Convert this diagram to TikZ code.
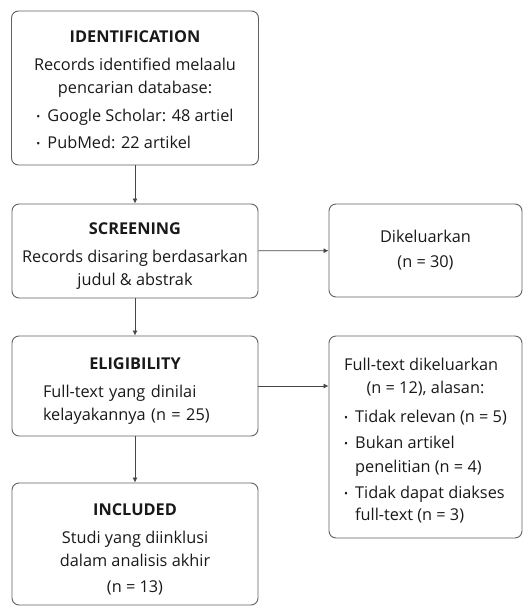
\documentclass[tikz,border=0pt]{standalone}
\usepackage{fontspec}
\setmainfont{Open Sans}
\usepackage{graphicx}
\usetikzlibrary{arrows.meta}

\newcommand{\bul}{\makebox[11pt][l]{\raisebox{0.15ex}{\scalebox{0.65}{\textbullet}}}}
\newcommand{\ttl}[1]{\rule{0pt}{22pt}\textbf{#1}}

\begin{document}
\begin{tikzpicture}[x=1pt, y=-1pt,
    box/.style={draw=black!62, line width=0.9pt, rounded corners=7pt, inner sep=0pt,
                font=\fontsize{16.3}{23}\selectfont, text=black!90},
    arr/.style={-{Latex[length=5pt,width=5pt]}, draw=black!72, line width=0.8pt}]
  \useasboundingbox (0,0) rectangle (526,606);

  \node[box, minimum width=247pt, minimum height=154pt, align=center] (ident) at (135,88)
    {\ttl{IDENTIFICATION}\\[5pt]
     Records identified melaalu\\ pencarian database:\\[7pt]
     \begin{tabular}{@{}l@{}}\bul Google Scholar: 48 artiel\\[4pt] \bul PubMed: 22 artikel\end{tabular}};

  \node[box, minimum width=246pt, minimum height=94pt, align=center] (screen) at (135,251)
    {\ttl{SCREENING}\\[5pt] Records disaring berdasarkan\\ judul \& abstrak};

  \node[box, minimum width=193pt, minimum height=93pt, align=center] (excl1) at (425.5,250.5)
    {Dikeluarkan\\[2pt] (n = 30)};

  \node[box, minimum width=246pt, minimum height=100pt, text width=184pt, align=left] (elig) at (135,386)
    {\makebox[184pt]{\ttl{ELIGIBILITY}}\\[5pt] Full-text yang dinilai\\ kelayakannya (n = 25)};

  \node[box, minimum width=193pt, minimum height=202pt, align=center] (excl2) at (425.5,437)
    {\begin{tabular}{@{}l@{}}
       \rule{0pt}{24pt}Full-text dikeluarkan\\
       \multicolumn{1}{c}{(n = 12), alasan:}\\[6pt]
       \bul Tidak relevan (n = 5)\\[3pt]
       \bul Bukan artikel\\[1pt]
       \hspace*{11pt}penelitian (n = 4)\\[3pt]
       \bul Tidak dapat diakses\\[-1pt]
       \hspace*{11pt}full-text (n = 3)
     \end{tabular}};

  \node[box, minimum width=246pt, minimum height=122pt, align=center] (incl) at (135,544)
    {\ttl{INCLUDED}\\[5pt] Studi yang diinklusi\\ dalam analisis akhir\\[3pt] (n = 13)};

  \draw[arr] (ident) -- (screen);
  \draw[arr] (screen) -- (excl1);
  \draw[arr] (screen) -- (elig);
  \draw[arr] (elig.east) -- (elig.east -| excl2.west);
  \draw[arr] (elig) -- (incl);
\end{tikzpicture}
\end{document}
